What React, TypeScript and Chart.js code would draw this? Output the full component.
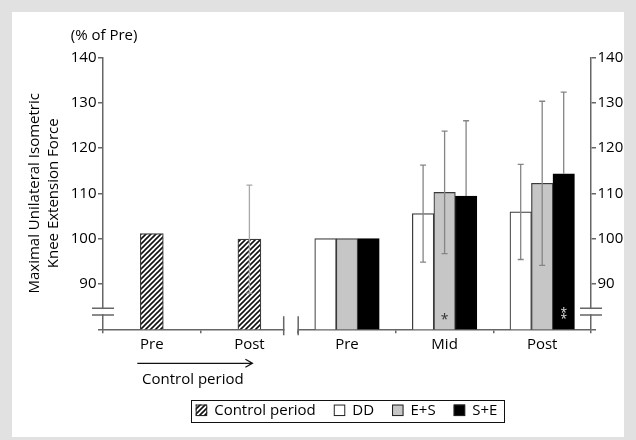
import React, { useEffect, useRef } from 'react';
import { Chart, registerables } from 'chart.js';

Chart.register(...registerables);

// ---- data ----
const categories = ['Pre', 'Post', 'Pre', 'Mid', 'Post'];
const controlValues = [101.1, 99.9, null, null, null];
const controlErr = [null, 11.9, null, null, null];
const ddValues = [null, null, 100, 105.5, 105.9];
const ddErr = [null, null, null, 10.7, 10.5];
const esValues = [null, null, 100, 110.2, 112.2];
const esErr = [null, null, null, 13.5, 18.1];
const seValues = [null, null, 100, 109.4, 114.3];
const seErr = [null, null, null, 16.6, 18.0];
const esSig = [null, null, null, '*', null];
const seSig = [null, null, null, null, '**'];
const seriesLabels = ['Control period', 'DD', 'E+S', 'S+E'];
const yMin = 80;
const yMax = 140;
const yStep = 10;
const yBreakValue = 83.9;
const yUnit = '(% of Pre)';
const yTitle = ['Maximal Unilateral Isometric', 'Knee Extension Force'];
const periodLabel = 'Control period';

const FONT = "'Open Sans', sans-serif";
const TEXT = '#000000';
const AXIS = '#666666';
const BAR_BORDER = '#3a3a3a';

function makeHatch(): CanvasPattern | string {
  const c = document.createElement('canvas');
  const s = 5;
  c.width = s;
  c.height = s;
  const g = c.getContext('2d');
  if (!g) return '#888';
  g.fillStyle = '#ffffff';
  g.fillRect(0, 0, s, s);
  g.strokeStyle = '#111111';
  g.lineWidth = 1.6;
  g.beginPath();
  g.moveTo(-1, s + 1);
  g.lineTo(s + 1, -1);
  g.moveTo(-1, 1);
  g.lineTo(1, -1);
  g.moveTo(s - 1, s + 1);
  g.lineTo(s + 1, s - 1);
  g.stroke();
  return g.createPattern(c, 'repeat') || '#888';
}

const decorPlugin = {
  id: 'decor',
  afterDatasetsDraw(chart: any) {
    const ctx = chart.ctx as CanvasRenderingContext2D;
    const y = chart.scales.y;
    chart.data.datasets.forEach((ds: any, di: number) => {
      const meta = chart.getDatasetMeta(di);
      const err = ds.errors as (number | null)[] | undefined;
      const sig = ds.sig as (string | null)[] | undefined;
      meta.data.forEach((bar: any, i: number) => {
        const v = ds.data[i];
        if (v == null) return;
        const e = err ? err[i] : null;
        if (e != null) {
          const x = bar.x;
          const yt = y.getPixelForValue(v + e);
          const yv = y.getPixelForValue(v);
          const yb = y.getPixelForValue(v - e);
          const showLower = ds.errorLower !== false;
          ctx.save();
          ctx.strokeStyle = ds.errorColor || '#888';
          ctx.lineWidth = 1.3;
          ctx.beginPath();
          ctx.moveTo(x, yt);
          ctx.lineTo(x, showLower ? yb : yv);
          ctx.moveTo(x - 3, yt);
          ctx.lineTo(x + 3, yt);
          if (showLower) {
            ctx.moveTo(x - 3, yb);
            ctx.lineTo(x + 3, yb);
          }
          ctx.stroke();
          ctx.restore();
        }
        const s = sig ? sig[i] : null;
        if (s) {
          ctx.save();
          ctx.fillStyle = ds.sigColor || '#333';
          ctx.font = `${s.length > 1 ? 12 : 14}px ${FONT}`;
          ctx.textAlign = 'center';
          ctx.textBaseline = 'alphabetic';
          const base = chart.chartArea.bottom - (s.length > 1 ? 6.5 : 5.6);
          for (let k = 0; k < s.length; k++) {
            ctx.fillText(s[k], bar.x, base - k * 5.8);
          }
          ctx.restore();
        }
      });
    });
  },
  afterDraw(chart: any) {
    const ctx = chart.ctx as CanvasRenderingContext2D;
    const { left, right, top, bottom } = chart.chartArea;
    const x = chart.scales.x;
    const y = chart.scales.y;

    // y-axis breaks (both sides)
    const yb = y.getPixelForValue(yBreakValue);
    const half = 3.35;
    [left, right].forEach((ax) => {
      ctx.save();
      ctx.fillStyle = '#ffffff';
      ctx.fillRect(ax - 2, yb - half + 0.8, 4, half * 2 - 1.6);
      ctx.strokeStyle = AXIS;
      ctx.lineWidth = 1.5;
      ctx.beginPath();
      ctx.moveTo(ax - 11, yb - half);
      ctx.lineTo(ax + 11, yb - half);
      ctx.moveTo(ax - 11, yb + half);
      ctx.lineTo(ax + 11, yb + half);
      ctx.stroke();
      ctx.restore();
    });

    // x-axis break between control period and training groups
    const bx = (x.getPixelForValue(1) + x.getPixelForValue(2)) / 2;
    const bx0 = bx - 14.5;
    ctx.save();
    ctx.fillStyle = '#ffffff';
    ctx.fillRect(bx0 + 0.8, bottom - 2, bx - bx0 - 1.6, 4);
    ctx.strokeStyle = AXIS;
    ctx.lineWidth = 1.5;
    ctx.beginPath();
    ctx.moveTo(bx0, bottom - 13);
    ctx.lineTo(bx0, bottom + 6);
    ctx.moveTo(bx, bottom - 13);
    ctx.lineTo(bx, bottom + 6);
    ctx.stroke();
    ctx.restore();

    // unit label
    ctx.save();
    ctx.font = `15px ${FONT}`;
    ctx.fillStyle = TEXT;
    ctx.textBaseline = 'middle';
    ctx.textAlign = 'left';
    const w140 = ctx.measureText(String(yMax)).width;
    ctx.fillText(yUnit, left - 6.5 - w140, top - 21.3);
    ctx.restore();

    // control period arrow
    const m0 = chart.getDatasetMeta(0);
    const b0 = m0.data[0];
    const b1 = m0.data[1];
    const ax0 = b0.x - b0.width / 2 - 3;
    const ax1 = b1.x + 3;
    const ay = bottom + 34;
    ctx.save();
    ctx.strokeStyle = '#111';
    ctx.lineWidth = 1.3;
    ctx.beginPath();
    ctx.moveTo(ax0, ay);
    ctx.lineTo(ax1, ay);
    ctx.moveTo(ax1 - 7, ay - 4);
    ctx.lineTo(ax1, ay);
    ctx.lineTo(ax1 - 7, ay + 4);
    ctx.stroke();
    ctx.font = `15px ${FONT}`;
    ctx.fillStyle = TEXT;
    ctx.textAlign = 'center';
    ctx.textBaseline = 'middle';
    ctx.fillText(periodLabel, (ax0 + ax1) / 2 - 2, ay + 16);
    ctx.restore();

    // legend
    ctx.save();
    ctx.font = `15px ${FONT}`;
    const icon = 11.5;
    const iconGap = 7;
    const itemGap = 18;
    const padL = 5;
    const padR = 6;
    const items = chart.data.datasets.map((ds: any) => ({
      label: ds.label,
      fill: ds.backgroundColor,
      w: ctx.measureText(ds.label).width,
    }));
    let total = padL + padR;
    items.forEach((it: any, i: number) => {
      total += icon + iconGap + it.w + (i < items.length - 1 ? itemGap : 0);
    });
    const cx = (left + right) / 2;
    const lx = cx - total / 2;
    const ly = bottom + 81;
    const lh = 21.5;
    ctx.strokeStyle = '#111';
    ctx.lineWidth = 1;
    ctx.strokeRect(Math.round(lx) + 0.5, Math.round(ly - lh / 2) + 0.5, Math.round(total), Math.round(lh));
    let cur = lx + padL;
    items.forEach((it: any) => {
      ctx.fillStyle = it.fill;
      ctx.fillRect(cur, ly - icon / 2, icon, icon);
      ctx.strokeStyle = '#222';
      ctx.lineWidth = 1;
      ctx.strokeRect(cur + 0.5, ly - icon / 2 + 0.5, icon - 1, icon - 1);
      cur += icon + iconGap;
      ctx.fillStyle = TEXT;
      ctx.textAlign = 'left';
      ctx.textBaseline = 'middle';
      ctx.fillText(it.label, cur, ly + 0.5);
      cur += it.w + itemGap;
    });
    ctx.restore();
  },
};

export default function App() {
  const ref = useRef<HTMLCanvasElement | null>(null);

  useEffect(() => {
    if (!ref.current) return;
    const hatch = makeHatch();
    const tickFont = { family: FONT, size: 15 };
    const yTickCb = (v: any) => (Number(v) === yMin ? '' : String(v));
    const chart = new Chart(ref.current, {
      type: 'bar',
      data: {
        labels: categories,
        datasets: [
          {
            label: seriesLabels[0],
            data: controlValues,
            backgroundColor: hatch as any,
            borderColor: BAR_BORDER,
            borderWidth: 1.2,
            barThickness: 23,
            skipNull: true,
            errors: controlErr,
            errorColor: '#a8a8a8',
          } as any,
          {
            label: seriesLabels[1],
            data: ddValues,
            backgroundColor: '#ffffff',
            borderColor: BAR_BORDER,
            borderWidth: 1.2,
            barThickness: 21.5,
            skipNull: true,
            errors: ddErr,
            errorColor: '#858585',
          } as any,
          {
            label: seriesLabels[2],
            data: esValues,
            backgroundColor: '#c6c6c6',
            borderColor: BAR_BORDER,
            borderWidth: 1.2,
            barThickness: 21.5,
            skipNull: true,
            errors: esErr,
            errorColor: '#858585',
            sig: esSig,
            sigColor: '#333333',
          } as any,
          {
            label: seriesLabels[3],
            data: seValues,
            backgroundColor: '#000000',
            borderColor: '#000000',
            borderWidth: 1.2,
            barThickness: 21.5,
            skipNull: true,
            errors: seErr,
            errorColor: '#858585',
            errorLower: false,
            sig: seSig,
            sigColor: '#e0e0e0',
          } as any,
        ],
      },
      options: {
        responsive: false,
        animation: false,
        layout: { padding: { left: 0, right: 0, top: 57.3, bottom: 80.7 } },
        plugins: {
          legend: { display: false },
          tooltip: { enabled: false },
          title: { display: false },
        },
        scales: {
          x: {
            type: 'category',
            grid: {
              display: true,
              drawOnChartArea: false,
              drawTicks: true,
              tickLength: 4,
              color: AXIS,
              lineWidth: 1.5,
              offset: true,
            },
            border: { display: true, color: AXIS, width: 1.5 },
            ticks: { color: TEXT, font: tickFont, padding: 2, maxRotation: 0, autoSkip: false },
            afterFit: (s: any) => {
              s.height = 30;
            },
          },
          y: {
            position: 'left',
            min: yMin,
            max: yMax,
            ticks: { stepSize: yStep, callback: yTickCb, padding: 1.5, color: TEXT, font: tickFont },
            grid: { drawOnChartArea: false, drawTicks: true, tickLength: 5, color: AXIS, lineWidth: 1.5 },
            border: { display: true, color: AXIS, width: 1.5 },
            title: {
              display: true,
              text: yTitle,
              color: TEXT,
              font: { family: FONT, size: 15, lineHeight: 1.23 },
              padding: { top: 26, bottom: 0 },
            },
            afterFit: (s: any) => {
              s.width = 103;
            },
          },
          y1: {
            position: 'right',
            min: yMin,
            max: yMax,
            ticks: { stepSize: yStep, callback: yTickCb, padding: 1.5, color: TEXT, font: tickFont },
            grid: { drawOnChartArea: false, drawTicks: true, tickLength: 5, color: AXIS, lineWidth: 1.5 },
            border: { display: true, color: AXIS, width: 1.5 },
            afterFit: (s: any) => {
              s.width = 45;
            },
          },
        },
      } as any,
      plugins: [decorPlugin],
    });
    return () => chart.destroy();
  }, []);

  return (
    <div style={{ position: 'absolute', left: 0, top: 0, width: 636, height: 440, background: '#e1e1e1' }}>
      <div style={{ position: 'absolute', left: 12, top: 12, width: 612, height: 425, background: '#ffffff' }} />
      <canvas ref={ref} width={636} height={440} style={{ position: 'absolute', left: 0, top: 0 }} />
    </div>
  );
}
